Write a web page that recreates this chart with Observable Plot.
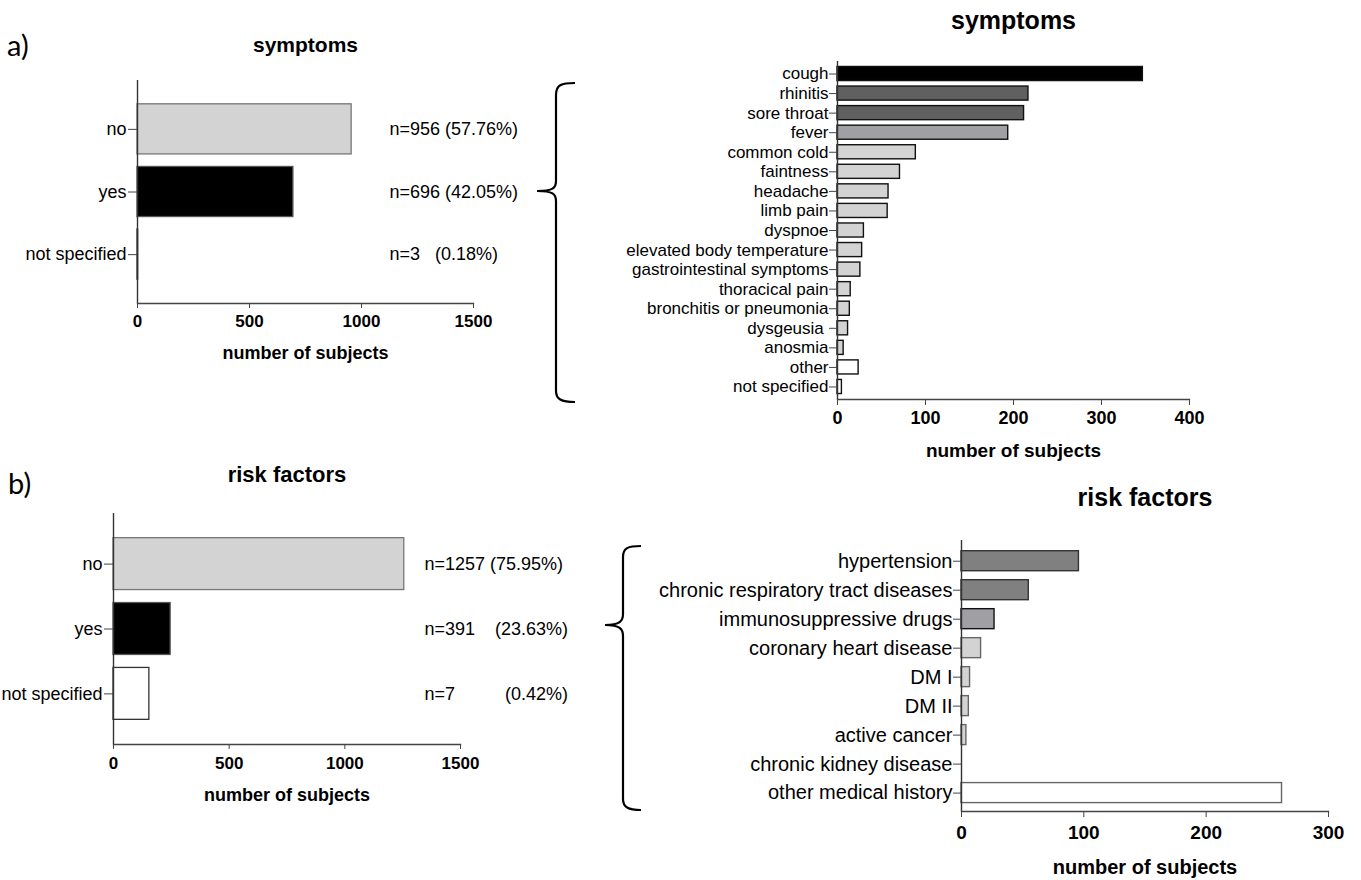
<!DOCTYPE html>
<html>
<head>
<meta charset="utf-8">
<script src="https://cdn.jsdelivr.net/npm/d3@7"></script>
<script src="https://cdn.jsdelivr.net/npm/@observablehq/plot@0.6"></script>
<style>
  body { margin: 0; background: #fff; }
  #wrap { position: relative; width: 1361px; height: 880px; overflow: hidden; background: #fff; }
  .panel { position: absolute; }
  .panel svg text, #overlay text { white-space: pre; }
  #overlay { position: absolute; left: 0; top: 0; pointer-events: none; }
</style>
</head>
<body>
<div id="wrap"></div>
<script>
// ---------------- data ----------------
const overviewCategories = ["no", "yes", "not specified"];
const overviewFills   = ["#d3d3d3", "#000000", "#ffffff"];
const overviewStrokes = ["#777777", "#555555", "#333333"];
const overviewTicks = [0, 500, 1000, 1500];

const symptomsOverviewCounts = [956, 696, 3];
const symptomsOverviewNotes  = ["n=956 (57.76%)", "n=696 (42.05%)", "n=3   (0.18%)"];

// bar lengths as drawn in the figure
const riskOverviewCounts = [1257, 247, 155];
const riskOverviewNotes  = ["n=1257 (75.95%)", "n=391    (23.63%)", "n=7          (0.42%)"];

const symptomCategories = ["cough", "rhinitis", "sore throat", "fever", "common cold", "faintness",
  "headache", "limb pain", "dyspnoe", "elevated body temperature", "gastrointestinal symptoms",
  "thoracical pain", "bronchitis or pneumonia", "dysgeusia ", "anosmia", "other", "not specified"];
const symptomCounts = [347, 217, 212, 194, 89, 71, 58, 57, 30, 28, 26, 15, 14, 12, 7, 24, 5];
const symptomFills = ["#000000", "#606060", "#606060", "#a0a0a4", "#d3d3d3", "#d3d3d3", "#d3d3d3",
  "#d3d3d3", "#d3d3d3", "#d3d3d3", "#d3d3d3", "#d3d3d3", "#d3d3d3", "#d3d3d3", "#d3d3d3", "#ffffff", "#ffffff"];
const symptomTicks = [0, 100, 200, 300, 400];

const riskCategories = ["hypertension", "chronic respiratory tract diseases", "immunosuppressive drugs",
  "coronary heart disease", "DM I", "DM II", "active cancer", "chronic kidney disease", "other medical history"];
const riskCounts = [96, 55, 27, 16, 7, 6, 4, 0, 262];
const riskFills = ["#808080", "#808080", "#a0a0a4", "#d3d3d3", "#d3d3d3", "#d3d3d3", "#d3d3d3", "#d3d3d3", "#ffffff"];
const riskStrokes = ["#333333", "#333333", "#111111", "#666666", "#666666", "#666666", "#666666", "#666666", "#666666"];
const riskTicks = [0, 100, 200, 300];

const axisLabel = "number of subjects";

// ---------------- helpers ----------------
const wrap = document.getElementById("wrap");
const FONT = "'Liberation Sans', Arial, Helvetica, sans-serif";
function place(node, left, top) {
  const d = document.createElement("div");
  d.className = "panel";
  d.style.left = left + "px";
  d.style.top = top + "px";
  d.appendChild(node);
  wrap.appendChild(d);
}

function overviewPlot(cfg) {
  const rows = overviewCategories.map((c, i) => ({
    category: c, count: cfg.counts[i], note: cfg.notes[i],
    fill: overviewFills[i], stroke: overviewStrokes[i]
  }));
  return Plot.plot({
    width: cfg.width, height: cfg.height,
    marginTop: cfg.marginTop, marginBottom: cfg.marginBottom,
    marginLeft: cfg.marginLeft, marginRight: cfg.marginRight,
    style: { fontFamily: FONT, fontSize: "18px", color: "#000", background: "transparent" },
    x: { domain: [0, 1500] },
    y: { domain: overviewCategories, paddingInner: 0.2, paddingOuter: 0.38, round: false },
    color: { type: "identity" },
    marks: [
      Plot.barX(rows, { x: "count", y: "category", fill: "fill", stroke: "stroke", strokeWidth: 1.3 }),
      Plot.ruleX([0], { stroke: "#333", strokeWidth: 1.4 }),
      Plot.frame({ anchor: "bottom", stroke: "#444", strokeWidth: 1.4 }),
      Plot.axisY({ tickSize: 9, tickPadding: 2, fontSize: 18, label: null, stroke: "#444", fill: "#000" }),
      Plot.axisX({ ticks: overviewTicks, tickSize: 5, tickPadding: cfg.tickPadding, fontSize: 17, fontWeight: "bold",
        label: null, stroke: "#444", fill: "#000", tickFormat: d => String(d) }),
      Plot.text(rows, { y: "category", text: "note", frameAnchor: "right", dx: cfg.noteDx, textAnchor: "start", fontSize: 18 }),
      Plot.text([cfg.title], { text: d => d, frameAnchor: "top", dy: cfg.titleDy, lineAnchor: "middle", fontWeight: "bold", fontSize: cfg.titleSize }),
      Plot.text([axisLabel], { text: d => d, frameAnchor: "bottom", dy: cfg.labelDy, lineAnchor: "middle", fontWeight: "bold", fontSize: 18 })
    ]
  });
}

function detailPlot(cfg) {
  const rows = cfg.categories.map((c, i) => ({
    category: c, count: cfg.counts[i], fill: cfg.fills[i], stroke: cfg.strokes ? cfg.strokes[i] : "#111"
  }));
  return Plot.plot({
    width: cfg.width, height: cfg.height,
    marginTop: cfg.marginTop, marginBottom: cfg.marginBottom,
    marginLeft: cfg.marginLeft, marginRight: cfg.marginRight,
    style: { fontFamily: FONT, fontSize: "18px", color: "#000", background: "transparent" },
    x: { domain: [0, cfg.max] },
    y: { domain: cfg.categories, paddingInner: cfg.paddingInner, paddingOuter: cfg.paddingOuter, align: cfg.align, round: false },
    color: { type: "identity" },
    marks: [
      Plot.barX(rows, { x: "count", y: "category", fill: "fill", stroke: "stroke", strokeWidth: 1.4 }),
      Plot.ruleX([0], { stroke: "#333", strokeWidth: 1.4 }),
      Plot.frame({ anchor: "bottom", stroke: "#444", strokeWidth: 1.4 }),
      Plot.axisY({ tickSize: 8, tickPadding: 1, fontSize: cfg.labelSize, label: null, stroke: "#444", fill: "#000" }),
      Plot.axisX({ ticks: cfg.ticks, tickSize: 6, tickPadding: cfg.tickPadding, fontSize: cfg.tickSize, fontWeight: "bold",
        label: null, stroke: "#444", fill: "#000", tickFormat: d => String(d) }),
      Plot.text([cfg.title], { text: d => d, frameAnchor: "top", dy: cfg.titleDy, lineAnchor: "middle", fontWeight: "bold", fontSize: cfg.titleSize }),
      Plot.text([axisLabel], { text: d => d, frameAnchor: "bottom", dy: cfg.labelDy, lineAnchor: "middle", fontWeight: "bold", fontSize: cfg.axisLabelSize })
    ]
  });
}

// ---------------- panels ----------------
// a) left overview
place(overviewPlot({
  counts: symptomsOverviewCounts, notes: symptomsOverviewNotes, title: "symptoms",
  width: 540, height: 380, marginTop: 80, marginBottom: 77, marginLeft: 137, marginRight: 67,
  noteDx: -84, titleDy: -35, titleSize: 21, labelDy: 50, tickPadding: 6
}), 0, 0);

// a) right detail
place(detailPlot({
  categories: symptomCategories, counts: symptomCounts, fills: symptomFills, max: 400, ticks: symptomTicks,
  title: "symptoms", width: 660, height: 470, marginTop: 61, marginBottom: 71, marginLeft: 277, marginRight: 31,
  paddingInner: 0.28, paddingOuter: 0.28, align: 0.5, labelSize: 17, tickSize: 18, tickPadding: 6,
  titleDy: -41, titleSize: 25, labelDy: 51, axisLabelSize: 19
}), 560, 0);

// b) left overview
place(overviewPlot({
  counts: riskOverviewCounts, notes: riskOverviewNotes, title: "risk factors",
  width: 590, height: 380, marginTop: 73, marginBottom: 76, marginLeft: 113, marginRight: 130,
  noteDx: -36, titleDy: -39, titleSize: 22, labelDy: 51, tickPadding: 7
}), 0, 440);

// b) right detail
place(detailPlot({
  categories: riskCategories, counts: riskCounts, fills: riskFills, strokes: riskStrokes, max: 300, ticks: riskTicks,
  title: "risk factors", width: 761, height: 410, marginTop: 70, marginBottom: 69, marginLeft: 361, marginRight: 33,
  paddingInner: 0.31, paddingOuter: 0.33, align: 0.56, labelSize: 20, tickSize: 19, tickPadding: 8,
  titleDy: -43, titleSize: 25, labelDy: 56, axisLabelSize: 20
}), 600, 470);

// ---------------- braces & panel tags ----------------
const ns = "http://www.w3.org/2000/svg";
const ov = document.createElementNS(ns, "svg");
ov.setAttribute("id", "overlay");
ov.setAttribute("width", 1361);
ov.setAttribute("height", 880);
ov.innerHTML = `
  <path d="M575,83 C561,83 556,85 556,95 L556,181 C556,188 553,191 537,191 C553,191 556,194 556,201 L556,391 C556,399 561,402 575,402"
        fill="none" stroke="#000" stroke-width="2.2"/>
  <path d="M641,546 C628,546 623,548 623,557 L623,614 C623,621 620,625 605,625 C620,625 623,629 623,636 L623,799 C623,807 628,810 641,810"
        fill="none" stroke="#000" stroke-width="2.2"/>
  <text x="7" y="56" font-family="Lato, 'Open Sans', sans-serif" font-size="29">a)</text>
  <text x="8" y="494" font-family="Lato, 'Open Sans', sans-serif" font-size="29">b)</text>
`;
wrap.appendChild(ov);
</script>
</body>
</html>
